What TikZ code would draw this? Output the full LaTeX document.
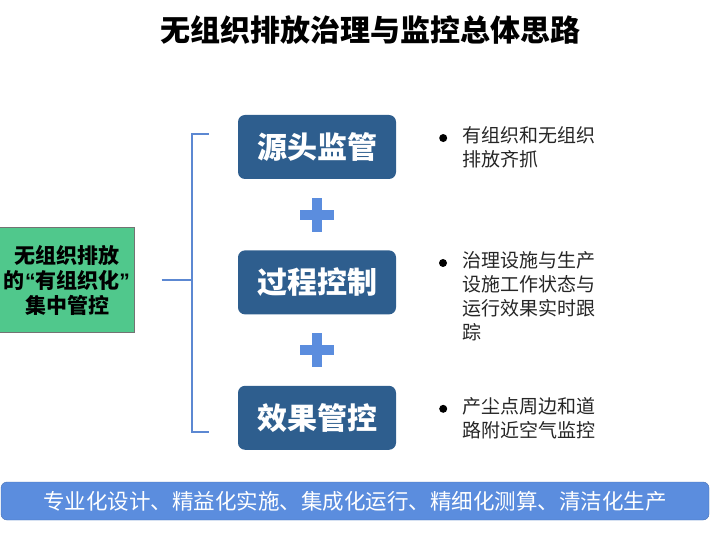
\documentclass[tikz,border=0pt]{standalone}
\usepackage{fontspec}
\setmainfont{Noto Sans CJK SC}
\newfontfamily\quotefont{Liberation Sans}
\usepackage{tikz}
\usetikzlibrary{positioning,calc}
\definecolor{deepblue}{RGB}{46,94,142}
\definecolor{lightblue}{RGB}{91,141,222}
\definecolor{braceblue}{RGB}{92,136,210}
\definecolor{leafgreen}{RGB}{80,200,140}

\begin{document}
\begin{tikzpicture}[
  x=1pt, y=-1pt,
  node distance=71pt and 66pt,
  stage/.style={rectangle, fill=deepblue, text=white, rounded corners=7pt,
                minimum width=158pt, minimum height=64pt, align=center,
                font=\fontsize{30}{34}\selectfont\bfseries},
  note/.style={inner sep=0pt, align=left, text=black!85,
               font=\fontsize{19}{24}\selectfont},
  dot/.style={circle, fill=black, inner sep=0pt, minimum size=8pt},
  lead/.style={rectangle, draw=black!55, fill=leafgreen, minimum width=135pt,
               minimum height=105pt, inner sep=2pt, align=center,
               font=\fontsize{21}{25}\selectfont\bfseries},
  bar/.style={rectangle, draw=lightblue!80!black, fill=lightblue, text=white,
              rounded corners=6pt, minimum width=708pt, minimum height=38pt,
              font=\fontsize{21.5}{25}\selectfont},
  brk/.style={draw=braceblue, line width=2pt},
  plus/.style={fill=lightblue}
]
  \useasboundingbox (0,0) rectangle (712,534);

  \node[font=\fontsize{30}{34}\selectfont\bfseries] (ttl) at (370,30)
    {无组织排放治理与监控总体思路};

  % three stages
  \node[stage] (src) at (317,147) {源头监管};
  \node[stage, below=of src] (proc) {过程控制};
  \node[stage, below=of proc] (eff) {效果管控};

  % plus signs
  \path (src) -- (proc) coordinate[midway] (p1);
  \path (proc) -- (eff) coordinate[midway] (p2);
  \foreach \p in {p1,p2} {
    \fill[plus] ($(\p)+(-17,-5)$) rectangle ($(\p)+(17,5)$);
    \fill[plus] ($(\p)+(-5,-17)$) rectangle ($(\p)+(5,17)$);
  }

  % notes
  \node[note, right=66pt of src, anchor=west] (n1) {有组织和无组织\\排放齐抓};
  \node[note, anchor=north west] (n2) at (462,251)
    {治理设施与生产\\设施工作状态与\\运行效果实时跟\\踪};
  \node[note, right=66pt of eff, anchor=west] (n3) {产尘点周边和道\\路附近空气监控};
  \foreach \n in {n1,n2,n3}
    \node[dot] (d\n) at ($(\n.north west)+(-19,12)$) {};

  % left box and bracket
  \node[lead] (lead) at (67,280)
    {无组织排放\\的{\quotefont“}有组织化{\quotefont”}\\集中管控};
  \coordinate (btop) at ($(src.west)+(-46,-13)$);
  \coordinate (bbot) at ($(eff.west)+(-46,14)$);
  \draw[brk] ($(src.west)+(-29,-13)$) -- (btop) -- (bbot) -- ($(eff.west)+(-29,14)$);
  \draw[brk] ([xshift=27pt]lead.east) -- (lead.east -| btop);

  \node[bar] (bar) at (355,501)
    {专业化设计、精益化实施、集成化运行、精细化测算、清洁化生产};
\end{tikzpicture}
\end{document}
